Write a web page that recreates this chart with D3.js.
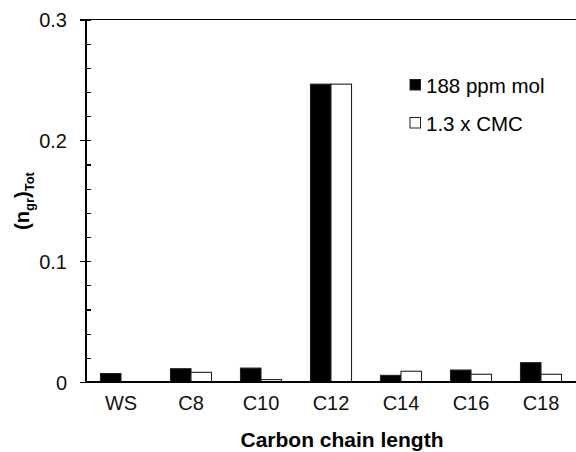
<!DOCTYPE html>
<html>
<head>
<meta charset="utf-8">
<script src="https://cdn.jsdelivr.net/npm/d3@7.9.0/dist/d3.min.js"></script>
<style>
  body { margin: 0; background: #fff; }
  svg { display: block; font-family: "Liberation Sans", Arial, sans-serif; }
  .axis path, .axis line { stroke: #000; stroke-width: 1.3; shape-rendering: crispEdges; }
  .axis text { font-size: 20px; fill: #111; }
</style>
</head>
<body>
<svg id="chart" width="576" height="452"></svg>
<script>
const categories = ['WS', 'C8', 'C10', 'C12', 'C14', 'C16', 'C18'];
const seriesNames = ['188 ppm mol', '1.3 x CMC'];
const ppmValues = [0.007, 0.011, 0.0115, 0.2465, 0.0055, 0.0099, 0.016];
const cmcValues = [0, 0.008, 0.002, 0.2465, 0.0089, 0.0064, 0.0064];
const yTicks = [0, 0.1, 0.2, 0.3];
const yMinorTicks = d3.range(0, 0.3001, 0.02);

const u = { left: 86, right: 576, top: 19.5, bottom: 382 };

const svg = d3.select('#chart');

const x = d3.scaleBand().domain(categories).range([u.left, u.right]).padding(0);
const x1 = d3.scaleBand().domain(seriesNames).range([0, x.bandwidth()])
  .paddingInner(0).paddingOuter(0.707);
const y = d3.scaleLinear().domain([0, 0.3]).range([u.bottom, u.top]);
const fills = ['#000', '#fff'];

const rows = categories.map((c, i) => ({ cat: c, vals: [ppmValues[i], cmcValues[i]] }));

// bars
const groups = svg.append('g').selectAll('g')
  .data(rows).join('g')
  .attr('transform', d => `translate(${x(d.cat)},0)`);

groups.selectAll('rect')
  .data(d => d.vals.map((v, j) => ({ s: seriesNames[j], v, j })).filter(d => d.v > 0))
  .join('rect')
  .attr('x', d => x1(d.s))
  .attr('width', x1.bandwidth())
  .attr('y', d => y(d.v))
  .attr('height', d => y(0) - y(d.v))
  .attr('fill', d => fills[d.j])
  .attr('stroke', '#222')
  .attr('stroke-width', 1.1);

// top line at 0.3
svg.append('line')
  .attr('x1', u.left).attr('x2', u.right)
  .attr('y1', y(0.3)).attr('y2', y(0.3))
  .attr('stroke', '#000').attr('stroke-width', 1.3)
  .attr('shape-rendering', 'crispEdges');

// x axis (baseline, no ticks)
svg.append('g')
  .attr('class', 'axis')
  .attr('transform', `translate(0,${u.bottom})`)
  .call(d3.axisBottom(x).tickSize(0).tickPadding(14))
  .call(g => g.select('.domain').attr('d', `M${u.left},0H${u.right}`));

// y axis major ticks (outside)
svg.append('g')
  .attr('class', 'axis')
  .attr('transform', `translate(${u.left},0)`)
  .call(d3.axisLeft(y).tickValues(yTicks).tickSize(6).tickPadding(13)
    .tickFormat(d => d === 0 ? '0' : d3.format('.1f')(d)))
  .call(g => g.select('.domain').attr('d', `M0,${u.top}V${u.bottom}`))
  .call(g => g.selectAll('.tick text').attr('dy', '0.35em'));

// y axis minor ticks (inside)
svg.append('g')
  .attr('class', 'axis')
  .attr('transform', `translate(${u.left},0)`)
  .call(d3.axisRight(y).tickValues(yMinorTicks).tickSize(5).tickFormat(''))
  .call(g => g.select('.domain').remove());

// x title
svg.append('text')
  .attr('x', 342).attr('y', 447)
  .attr('text-anchor', 'middle')
  .attr('font-size', 21).attr('font-weight', 'bold')
  .text('Carbon chain length');

// y title
const yt = svg.append('text')
  .attr('transform', 'translate(29,201) rotate(-90)')
  .attr('text-anchor', 'middle')
  .attr('font-size', 20).attr('font-weight', 'bold');
yt.append('tspan').text('(n');
yt.append('tspan').attr('font-size', 13).attr('dy', 5).text('gr');
yt.append('tspan').attr('dy', -5).text(')');
yt.append('tspan').attr('font-size', 13).attr('dy', 5).text('Tot');

// legend
const legend = svg.append('g').selectAll('g')
  .data(seriesNames).join('g')
  .attr('transform', (d, i) => `translate(410,${79.5 + i * 38})`);
legend.append('rect')
  .attr('width', 10.5).attr('height', 10.5)
  .attr('fill', (d, i) => fills[i])
  .attr('stroke', '#222').attr('stroke-width', 1);
legend.append('text')
  .attr('x', 16).attr('y', 13.5)
  .attr('font-size', 20.5)
  .text(d => d);
</script>
</body>
</html>
